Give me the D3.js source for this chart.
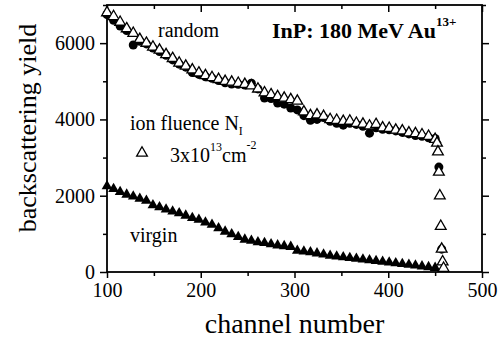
<!DOCTYPE html>
<html>
<head>
<meta charset="utf-8">
<script src="https://cdn.jsdelivr.net/npm/d3@7"></script>
<style>
  body { margin: 0; background: #fff; }
  svg { display: block; font-family: "Liberation Serif", "Times New Roman", serif; }
  .axis path, .axis line { stroke: #000; stroke-width: 1.5; }
</style>
</head>
<body>
<div id="chart"></div>
<script>
// channel numbers of the plotted points
const channels = [100, 107, 114, 121, 128, 135, 142, 149, 156, 163,
  170, 177, 184, 191, 198, 205, 212, 219, 226, 233,
  240, 247, 254, 261, 268, 275, 282, 289, 296, 303,
  310, 317, 324, 331, 338, 345, 352, 359, 366, 373,
  380, 387, 394, 401, 408, 415, 422, 429, 436, 443, 450];

// random spectrum (filled circles)
const randomYield = [6750, 6600, 6450, 6330, 5950, 6050, 5980, 5870, 5780, 5680,
  5560, 5450, 5370, 5230, 5180, 5120, 5080, 5020, 4960, 4930,
  4920, 4900, 4950, 4800, 4560, 4550, 4430, 4400, 4300, 4250,
  4100, 3980, 4000, 4050, 3950, 3900, 3850, 3900, 3870, 3820,
  3640, 3780, 3740, 3730, 3700, 3660, 3620, 3580, 3560, 3520, 3500];
const randomEdgeCh = [454, 457];
const randomEdge = [2750, 600];

// irradiated, 3x10^13 cm^-2 (open triangles)
const fluenceYield = [6800, 6700, 6550, 6380, 6260, 6100, 6000, 5900, 5820, 5700,
  5600, 5480, 5400, 5300, 5220, 5150, 5100, 5050, 5000, 4980,
  4950, 4920, 4880, 4800, 4700, 4650, 4600, 4560, 4520, 4480,
  4200, 4100, 4120, 4080, 4000, 3980, 3950, 3960, 3900, 3880,
  3830, 3870, 3780, 3770, 3720, 3700, 3650, 3630, 3600, 3560, 3480];
const fluenceEdgeCh = [452, 453, 454, 455, 456, 457, 458, 459];
const fluenceEdge = [3380, 3150, 2620, 2000, 1200, 600, 270, 100];

// virgin crystal, aligned (filled triangles)
const virginYield = [2250, 2180, 2100, 2030, 1980, 1920, 1870, 1750, 1700, 1640,
  1590, 1540, 1480, 1420, 1370, 1300, 1240, 1150, 1060, 990,
  920, 850, 820, 780, 760, 730, 700, 680, 660, 560,
  540, 520, 490, 460, 430, 410, 390, 370, 350, 330,
  310, 290, 270, 250, 230, 210, 190, 170, 150, 130, 110];

const xTicks = [100, 200, 300, 400, 500];
const xMinor = [150, 250, 350, 450];
const yTicks = [0, 2000, 4000, 6000];
const yMinor = [1000, 3000, 5000, 7000];

const width = 504, height = 341;
const plot = { left: 107, right: 482, top: 5, bottom: 272 };
const serif = "'Liberation Serif', 'Times New Roman', serif";

const svg = d3.select("#chart").append("svg")
  .attr("width", width)
  .attr("height", height);

const x = d3.scaleLinear().domain([100, 500]).range([plot.left, plot.right]);
const y = d3.scaleLinear().domain([0, 7000]).range([plot.bottom, plot.top]);

// axes: outward ticks bottom/left, inward ticks top/right
function drawAxis(axis, tx, ty) {
  const g = svg.append("g").attr("class", "axis")
    .attr("transform", `translate(${tx},${ty})`)
    .call(axis);
  g.select(".domain").remove();
  g.attr("font-family", serif).attr("font-size", 20);
  g.selectAll("text").attr("fill", "#000");
  return g;
}

drawAxis(d3.axisBottom(x).tickValues(xTicks).tickSize(6).tickPadding(5).tickFormat(d3.format("d")), 0, plot.bottom);
drawAxis(d3.axisBottom(x).tickValues(xMinor).tickSize(4).tickFormat(""), 0, plot.bottom);
drawAxis(d3.axisLeft(y).tickValues(yTicks).tickSize(7).tickPadding(5).tickFormat(d3.format("d")), plot.left, 0);
drawAxis(d3.axisLeft(y).tickValues(yMinor).tickSize(4).tickFormat(""), plot.left, 0);
drawAxis(d3.axisBottom(x).tickValues(xTicks).tickSize(7).tickFormat(""), 0, plot.top);
drawAxis(d3.axisBottom(x).tickValues(xMinor).tickSize(4).tickFormat(""), 0, plot.top);
drawAxis(d3.axisLeft(y).tickValues(yTicks).tickSize(-7).tickFormat(""), plot.right, 0);
drawAxis(d3.axisLeft(y).tickValues(yMinor).tickSize(-4).tickFormat(""), plot.right, 0);

svg.append("rect")
  .attr("x", plot.left).attr("y", plot.top)
  .attr("width", plot.right - plot.left)
  .attr("height", plot.bottom - plot.top)
  .attr("fill", "none")
  .attr("stroke", "#000")
  .attr("stroke-width", 1.8);

// axis titles
svg.append("text")
  .attr("x", (plot.left + plot.right) / 2)
  .attr("y", 333)
  .attr("text-anchor", "middle")
  .style("font-size", "28px")
  .text("channel number");

svg.append("text")
  .attr("transform", "rotate(-90)")
  .attr("x", -128)
  .attr("y", 36)
  .attr("text-anchor", "middle")
  .style("font-size", "26px")
  .text("backscattering yield");

// data
const circle = d3.symbol().type(d3.symbolCircle).size(64);
const tri = d3.symbol().type(d3.symbolTriangle).size(50);

const randomPts = channels.map((c, i) => [c, randomYield[i]])
  .concat(randomEdgeCh.map((c, i) => [c, randomEdge[i]]));
const fluencePts = channels.map((c, i) => [c, fluenceYield[i]])
  .concat(fluenceEdgeCh.map((c, i) => [c, fluenceEdge[i]]));
const virginPts = channels.map((c, i) => [c, virginYield[i]]);

svg.append("g").selectAll("path")
  .data(virginPts)
  .enter().append("path")
  .attr("transform", d => `translate(${x(d[0])},${y(d[1])})`)
  .attr("d", tri)
  .attr("fill", "#000");

svg.append("g").selectAll("path")
  .data(randomPts)
  .enter().append("path")
  .attr("transform", d => `translate(${x(d[0])},${y(d[1])})`)
  .attr("d", circle)
  .attr("fill", "#000");

svg.append("g").selectAll("path")
  .data(fluencePts)
  .enter().append("path")
  .attr("transform", d => `translate(${x(d[0])},${y(d[1])})`)
  .attr("d", tri)
  .attr("fill", "#fff")
  .attr("stroke", "#000")
  .attr("stroke-width", 1.3);

// labels
svg.append("text")
  .attr("x", 158).attr("y", 37)
  .style("font-size", "20px")
  .text("random");

svg.append("text")
  .attr("x", 130).attr("y", 242)
  .style("font-size", "20px")
  .text("virgin");

const title = svg.append("text")
  .attr("x", 272).attr("y", 38)
  .style("font-size", "22px")
  .style("font-weight", "bold");
title.append("tspan").text("InP: 180 MeV Au");
title.append("tspan").attr("dy", -12).style("font-size", "13px").text("13+");

const ion = svg.append("text")
  .attr("x", 130).attr("y", 130)
  .style("font-size", "20px");
ion.append("tspan").text("ion fluence N");
ion.append("tspan").attr("dy", 5).style("font-size", "12px").text("I");

svg.append("path")
  .attr("transform", `translate(142,153)`)
  .attr("d", tri)
  .attr("fill", "#fff")
  .attr("stroke", "#000")
  .attr("stroke-width", 1.3);

const dose = svg.append("text")
  .attr("x", 170).attr("y", 162)
  .style("font-size", "20px");
dose.append("tspan").text("3x10");
dose.append("tspan").attr("dy", -11).style("font-size", "12px").text("13");
dose.append("tspan").attr("dy", 11).text("cm");
dose.append("tspan").attr("dy", -13).style("font-size", "12px").text("-2");
</script>
</body>
</html>
